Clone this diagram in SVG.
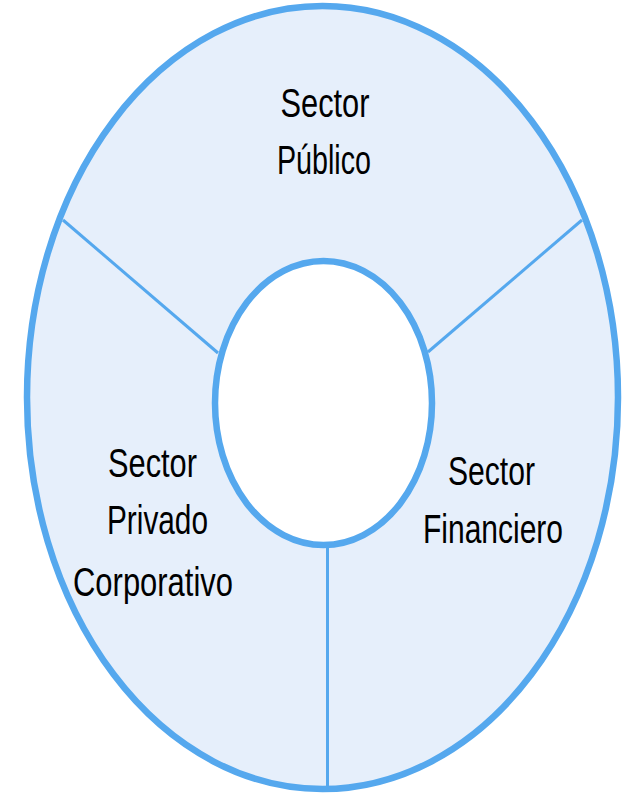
<svg xmlns="http://www.w3.org/2000/svg" width="623" height="794" viewBox="0 0 623 794">
<style>
.ring{fill:#E6EFFB;stroke:#55A8EE;stroke-width:6.5}
.hole{fill:#FFFFFF;stroke:#55A8EE;stroke-width:6.5}
.div{stroke:#55A8EE;stroke-width:3;fill:none}
.lbl{font-family:"Liberation Sans",Arial,sans-serif;font-size:40px;fill:#000;text-anchor:middle}
</style>
<rect width="623" height="794" fill="#FFFFFF"/>
<g id="outer-ring">
<ellipse class="ring" cx="322.5" cy="397.5" rx="295.5" ry="391.5"/>
</g>
<g id="connectors">
<line class="div" x1="63" y1="220" x2="218" y2="353"/>
<line class="div" x1="582" y1="220" x2="428" y2="352"/>
<line class="div" x1="327.5" y1="545" x2="327.5" y2="789"/>
</g>
<g id="center">
<ellipse class="hole" cx="323.5" cy="403" rx="108.5" ry="142"/>
</g>
<g id="sector-publico">
<text class="lbl" x="325" y="117" textLength="89" lengthAdjust="spacingAndGlyphs">Sector</text>
<text class="lbl" x="324" y="174" textLength="94" lengthAdjust="spacingAndGlyphs">Público</text>
</g>
<g id="sector-privado">
<text class="lbl" x="152.5" y="477" textLength="89" lengthAdjust="spacingAndGlyphs">Sector</text>
<text class="lbl" x="157.5" y="534" textLength="101" lengthAdjust="spacingAndGlyphs">Privado</text>
<text class="lbl" x="153" y="596" textLength="160" lengthAdjust="spacingAndGlyphs">Corporativo</text>
</g>
<g id="sector-financiero">
<text class="lbl" x="491.5" y="485" textLength="87" lengthAdjust="spacingAndGlyphs">Sector</text>
<text class="lbl" x="493" y="543" textLength="140" lengthAdjust="spacingAndGlyphs">Financiero</text>
</g>
</svg>
